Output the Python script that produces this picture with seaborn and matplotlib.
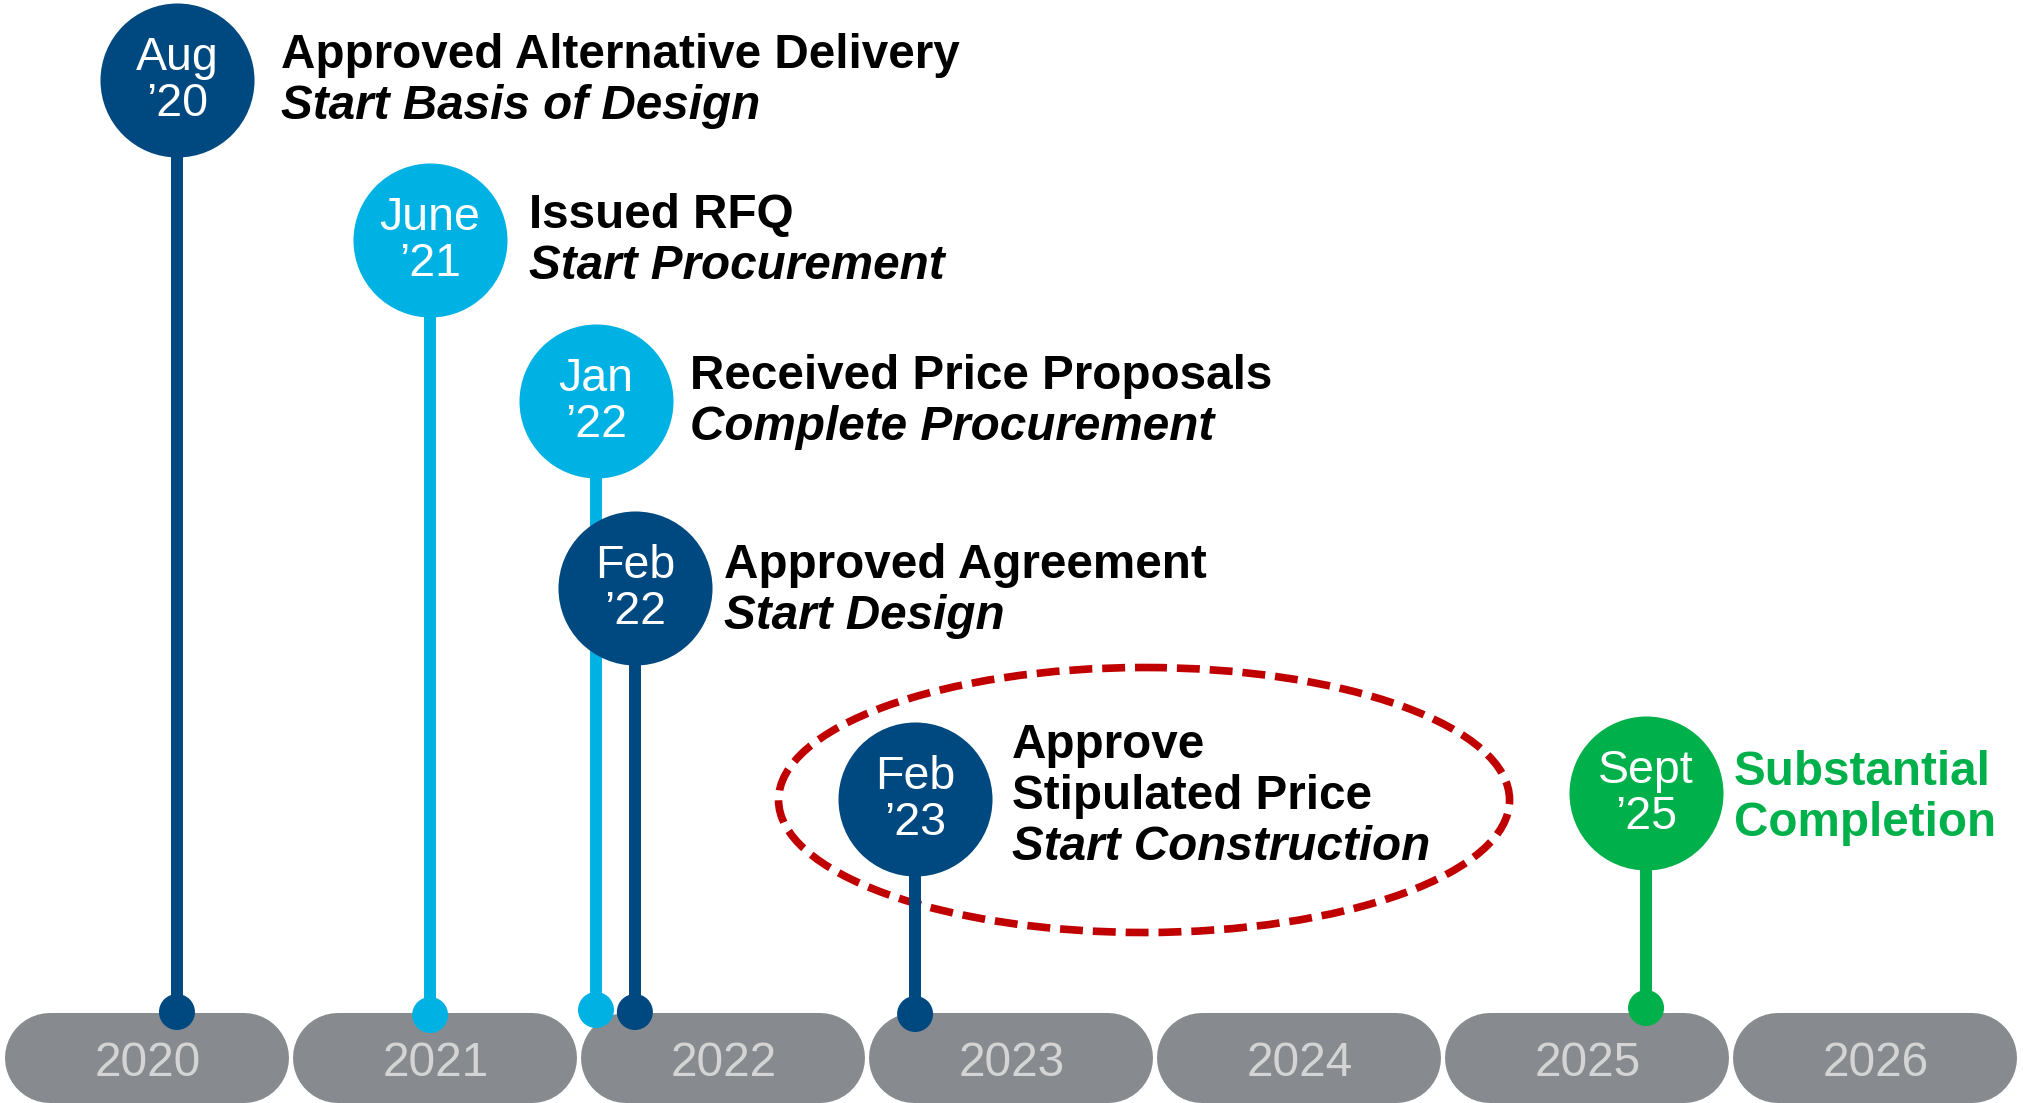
import numpy as np
import pandas as pd
import seaborn as sns
import matplotlib.pyplot as plt
from matplotlib.patches import Ellipse

# timeline years (one grey pill each)
years = [2020, 2021, 2022, 2023, 2024, 2025, 2026]

# milestones, positions (fractional years)
event_month = ["Aug", "June", "Jan", "Feb", "Feb", "Sept"]
event_year = ["\u201920", "\u201921", "\u201922", "\u201922", "\u201923", "\u201925"]
event_pos = [2020.604, 2021.483, 2022.059, 2022.194, 2023.167, 2025.705]
bubble_y = [80, 240, 401, 588, 799, 793]
dot_y = [1012, 1015, 1010, 1012, 1014, 1008]
event_kind = ["dark", "light", "light", "dark", "dark", "green"]

label_x = [2020.965, 2021.826, 2022.385, 2022.503, 2023.503, 2026.010]
label_top = [68, 228, 389, 578, 758, 785]
label_lines = [
    ["Approved Alternative Delivery", "Start Basis of Design"],
    ["Issued RFQ", "Start Procurement"],
    ["Received Price Proposals", "Complete Procurement"],
    ["Approved Agreement", "Start Design"],
    ["Approve", "Stipulated Price", "Start Construction"],
    ["Substantial", "Completion"],
]
label_italic = [
    [False, True],
    [False, True],
    [False, True],
    [False, True],
    [False, False, True],
    [False, False],
]

palette = {"dark": "#004880", "light": "#00B2E3", "green": "#00B04A"}
PILL = "#878B8F"
YEAR_TXT = "#D4D4D4"
RED = "#C00000"

PX_PER_YEAR = 288.0


def main():
    sns.set_style("white")
    plt.rcParams["font.family"] = ["Liberation Sans", "DejaVu Sans"]

    fig = plt.figure(figsize=(20.23, 11.03), dpi=100)
    ax = fig.add_axes([0, 0, 1, 1])
    ax.set_xlim(2020 - 3 / PX_PER_YEAR, 2020 + 2020 / PX_PER_YEAR)
    ax.set_ylim(1103, 0)
    ax.axis("off")

    # year pills: thick lines with round caps
    cap = (45 + 2) / PX_PER_YEAR
    for y in years:
        ax.plot([y + cap, y + 1 - cap], [1058, 1058], color=PILL, lw=64.8,
                solid_capstyle="round", zorder=1)
        ax.text(y + 0.5 + 1 / PX_PER_YEAR, 1076, str(y), ha="center", va="baseline",
                fontsize=34.5, color=YEAR_TXT, zorder=2)

    df = pd.DataFrame({
        "pos": event_pos, "top": bubble_y, "bottom": dot_y, "kind": event_kind,
    })

    # stems
    for _, r in df.iterrows():
        ax.plot([r["pos"], r["pos"]], [r["top"], r["bottom"]],
                color=palette[r["kind"]], lw=8.6, solid_capstyle="butt", zorder=3)

    # dots on the timeline
    sns.scatterplot(data=df, x="pos", y="bottom", hue="kind", palette=palette,
                    s=672, linewidth=0, legend=False, ax=ax, zorder=4)

    # bubbles, one at a time so later ones sit on top of earlier stems
    for i, r in df.iterrows():
        sns.scatterplot(x=[r["pos"]], y=[r["top"]], color=palette[r["kind"]],
                        s=12300, linewidth=0, legend=False, ax=ax, zorder=5 + i)
        ax.text(r["pos"], r["top"] - 10, event_month[i], ha="center", va="baseline",
                fontsize=33.5, color="white", zorder=20)
        ax.text(r["pos"], r["top"] + 36, event_year[i], ha="center", va="baseline",
                fontsize=33.5, color="white", zorder=20)

    # milestone descriptions
    for i in range(len(event_pos)):
        col = palette["green"] if event_kind[i] == "green" else "black"
        for j, line in enumerate(label_lines[i]):
            ax.text(label_x[i], label_top[i] + 51 * j, line, ha="left", va="baseline",
                    fontsize=34.3, fontweight="bold",
                    fontstyle="italic" if label_italic[i][j] else "normal",
                    color=col, zorder=20)

    # dashed highlight round the Feb '23 milestone
    ell = Ellipse((2023.962, 800), 731 / PX_PER_YEAR, 265, fill=False,
                  edgecolor=RED, lw=5.5, linestyle=(0, (3.0, 1.3)), zorder=2)
    ax.add_patch(ell)

    fig.savefig("out.png", dpi=100)
    plt.close(fig)


if __name__ == "__main__":
    main()
